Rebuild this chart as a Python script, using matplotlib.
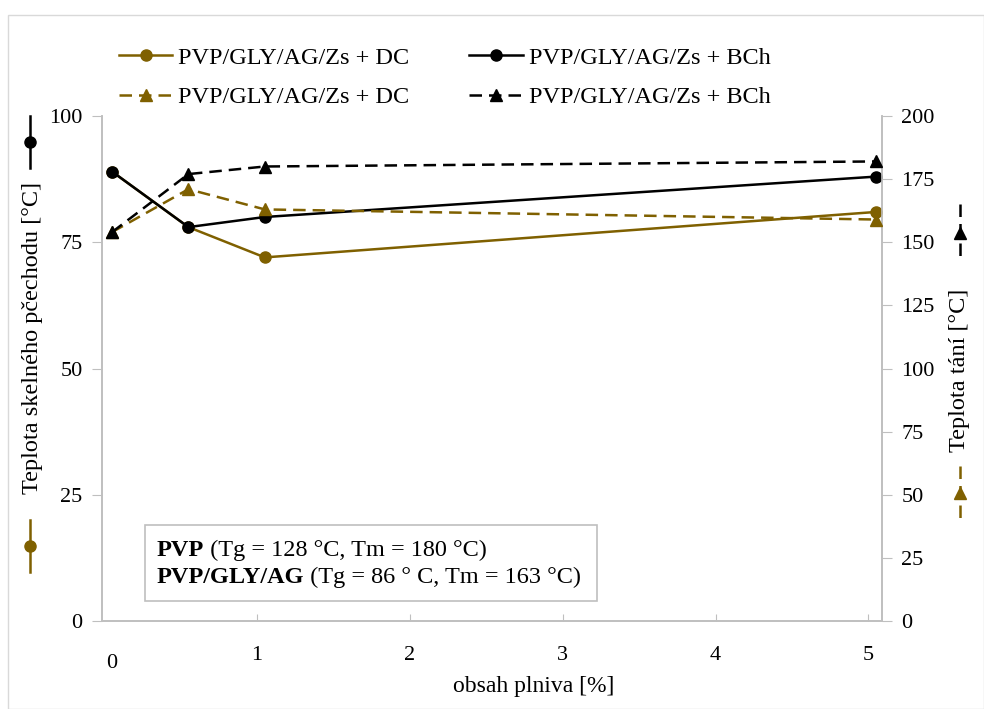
import matplotlib
matplotlib.use("Agg")
import matplotlib.pyplot as plt
from matplotlib.lines import Line2D
from matplotlib.patches import Rectangle

# ---- data ----
x_content = [0, 0.5, 1, 5]
tg_dc = [89, 78, 72, 81]
tg_bch = [89, 78, 80, 88]
tm_dc = [154, 171, 163, 159]
tm_bch = [154, 177, 180, 182]
x_tick_labels = ["0", "1", "2", "3", "4", "5"]
left_ticks = [0, 25, 50, 75, 100]
right_ticks = [0, 25, 50, 75, 100, 125, 150, 175, 200]
legend_labels = ["PVP/GLY/AG/Zs + DC", "PVP/GLY/AG/Zs + DC",
                 "PVP/GLY/AG/Zs + BCh", "PVP/GLY/AG/Zs + BCh"]

GOLD = "#7f6000"
GRAY = "#bfbfbf"
FS = 17.5
TFS = 16
plt.rcParams["font.family"] = ["Liberation Serif", "DejaVu Serif"]

W, H = 984, 709
fig = plt.figure(figsize=(W / 100, H / 100), dpi=100)
L, R, T, B = 102, 882, 116, 621
ax = fig.add_axes([L / W, 1 - B / H, (R - L) / W, (B - T) / H])
ax2 = ax.twinx()

# outer border
fig.patches.append(Rectangle((8 / W, 0), (W - 8) / W, 1 - 15 / H, transform=fig.transFigure,
                             fill=False, edgecolor="#d9d9d9", lw=1.0))

lw = 1.8
ms = 8
DASH = (0, (5, 2.8))
h1, = ax.plot(x_content, tg_dc, color=GOLD, lw=lw, marker="o", ms=ms, zorder=3)
h3, = ax.plot(x_content, tg_bch, color="black", lw=lw, marker="o", ms=ms, zorder=4)
h2, = ax2.plot(x_content, tm_dc, color=GOLD, lw=lw, ls=DASH, marker="^", ms=ms, zorder=3)
h4, = ax2.plot(x_content, tm_bch, color="black", lw=lw, ls=DASH, marker="^", ms=ms, zorder=4)

ax.set_xlim(-0.0654, 5.039)
ax.set_ylim(0, 100)
ax2.set_ylim(0, 200)
ax.set_yticks(left_ticks)
ax2.set_yticks(right_ticks)

# x ticks (offset like the original chart)
ax.set_xticks([k - 0.05 for k in range(1, 6)])
ax.set_xticklabels(x_tick_labels[1:])
ax.set_xticks([0], minor=True)
ax.set_xticklabels([x_tick_labels[0]], minor=True)
ax.tick_params(axis="x", which="major", direction="in", length=5, color=GRAY,
               labelsize=TFS, pad=18)
ax.tick_params(axis="x", which="minor", length=0, labelsize=TFS, pad=24)
ax.tick_params(axis="y", direction="out", length=7, color=GRAY, labelsize=TFS, pad=7)
ax2.tick_params(axis="y", direction="out", length=7, color=GRAY, labelsize=TFS, pad=7)

for a in (ax, ax2):
    a.spines["top"].set_visible(False)
    for s in ("left", "right", "bottom"):
        a.spines[s].set_color(GRAY)
        a.spines[s].set_linewidth(1.2)
ax.patch.set_visible(False)

ax.set_xlabel("obsah plniva [%]", fontsize=17)
ax.xaxis.set_label_coords((534 - L) / (R - L), (B - 676) / (B - T))

# axis titles
fig.text(33 / W, 1 - 338 / H, "Teplota skelného pčechodu [°C]", rotation=90,
         ha="center", va="center", fontsize=FS)
fig.text(960 / W, 1 - 370 / H, "Teplota tání [°C]", rotation=90,
         ha="center", va="center", fontsize=FS)

def key(xp, y0, y1, color, marker, ls):
    ym = (y0 + y1) / 2
    fig.add_artist(Line2D([xp / W] * 3, [1 - y0 / H, 1 - ym / H, 1 - y1 / H],
                          transform=fig.transFigure, color=color, lw=lw, ls=ls,
                          marker=marker, ms=ms, markevery=[1]))

key(30, 116, 168, "black", "o", "-")
key(30, 520, 572, GOLD, "o", "-")
key(960, 204, 262, "black", "^", DASH)
key(960, 466, 520, GOLD, "^", DASH)

# legend
fig.legend([h1, h2, h3, h4], legend_labels, ncol=2, loc="upper left",
           bbox_to_anchor=(97 / W, 1 - 25 / H), frameon=False, fontsize=FS,
           handlelength=2.2, handletextpad=0.25, columnspacing=2.45, labelspacing=0.72)

# text box
fig.patches.append(Rectangle((145 / W, 1 - 601 / H), 452 / W, 76 / H, transform=fig.transFigure,
                             facecolor="white", edgecolor=GRAY, lw=1.2, zorder=5))
lines = [("PVP", " (Tg = 128 °C, Tm = 180 °C)", 556),
         ("PVP/GLY/AG", " (Tg = 86 ° C, Tm = 163 °C)", 583)]
fig.canvas.draw()
r = fig.canvas.get_renderer()
for bold, rest, yb in lines:
    t = fig.text(157 / W, 1 - yb / H, bold, fontweight="bold", fontsize=FS,
                 va="baseline", zorder=6)
    bb = t.get_window_extent(renderer=r)
    fig.text(bb.x1 / W, 1 - yb / H, rest, fontsize=FS, va="baseline", zorder=6)

fig.savefig("out.png", dpi=100)
